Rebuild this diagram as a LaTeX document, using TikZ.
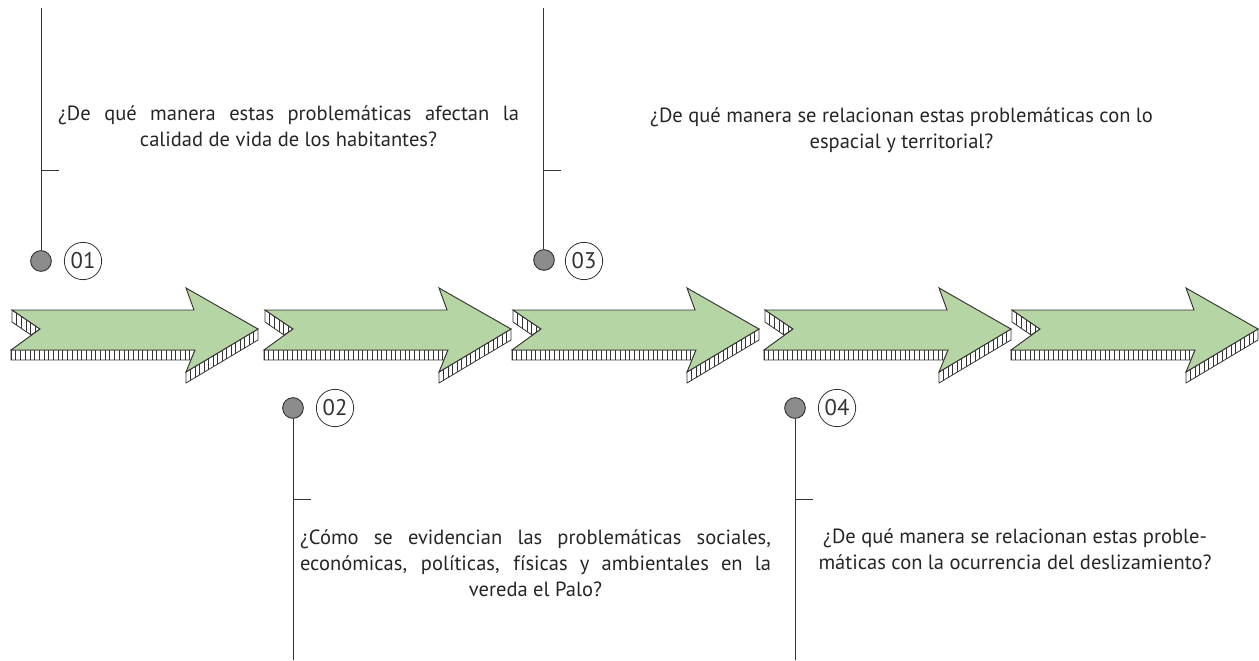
\documentclass[tikz,border=0pt]{standalone}
\usepackage{fontspec}
\setmainfont{PT Sans}
\definecolor{arrowgreen}{HTML}{B5D5A5}
\definecolor{inkline}{HTML}{333333}
\definecolor{dotgray}{HTML}{8C8C8C}
\tikzset{
  x=0.75pt,y=-0.75pt,
  face/.style={fill=arrowgreen,draw=inkline,line width=0.7pt,line join=miter},
  band/.style={fill=white,draw=inkline,line width=0.6pt,line join=miter},
  hatch/.style={draw=inkline,line width=0.4pt},
  stem/.style={draw=inkline,line width=0.6pt},
  dot/.style={circle,draw=inkline,fill=dotgray,line width=0.7pt,minimum size=15.5pt,inner sep=0pt},
  numlabel/.style={circle,draw=inkline,fill=white,line width=0.6pt,minimum size=28pt,inner sep=0pt,font=\fontsize{17}{19}\selectfont,text=inkline},
  question/.style={inner sep=0pt,align=center,font=\fontsize{15.4}{19.6}\selectfont,text=black!85},
}
\newcommand{\bigarrow}[1]{%
\begin{scope}[xshift=#1*0.75pt]
  % bottom band
  \path[band] (-1,350) -- (183,350) -- (179,360) -- (-1,360) -- cycle;
  \begin{scope}
    \clip (-1,350) -- (183,350) -- (179,360) -- (-1,360) -- cycle;
    \foreach \i in {0,...,39} {\draw[hatch] ({-1+4.7*\i},350) -- ({-1+4.7*\i},360);}
  \end{scope}
  % head band
  \path[band] (174,372) -- (246,329) -- (246,340) -- (174,383) -- cycle;
  \foreach \i in {1,...,15} {\draw[hatch] ({174+4.5*\i},{372-2.69*\i}) -- ++(0,11);}
  % notch band
  \path[band] (0,310) -- (28,329) -- (19,335) -- (0,322) -- cycle;
  \begin{scope}
    \clip (0,310) -- (28,329) -- (19,335) -- (0,322) -- cycle;
    \foreach \i in {1,...,5} {\draw[hatch] ({0+4.6*\i},310) -- ++(0,40);}
  \end{scope}
  % face
  \path[face] (0,310) -- (182,310) -- (174,288) -- (246,329) -- (174,372) -- (183,350) -- (-1,350) -- (28,329) -- cycle;
\end{scope}}
\begin{document}
\begin{tikzpicture}
\useasboundingbox (0,0) rectangle (1259,660);
\bigarrow{12}
\bigarrow{265}
\bigarrow{513}
\bigarrow{765}
\bigarrow{1012}

\coordinate (top1) at (41,8);
\coordinate (top3) at (543,8);
\coordinate (bot2) at (293,660);
\coordinate (bot4) at (795,660);
\coordinate (tick1a) at (41,170);
\coordinate (tick1b) at (59,170);
\coordinate (tick3a) at (543,170);
\coordinate (tick3b) at (561,170);
\coordinate (tick2a) at (293,499);
\coordinate (tick2b) at (311,499);
\coordinate (tick4a) at (795,499);
\coordinate (tick4b) at (813,499);

\node[dot] (d1) at (41,261) {};
\node[dot] (d3) at (544,260) {};
\node[dot] (d2) at (293,408) {};
\node[dot] (d4) at (795,408) {};
\node[numlabel] (n1) at (83,261) {01};
\node[numlabel] (n3) at (584,261) {03};
\node[numlabel] (n2) at (335,408) {02};
\node[numlabel] (n4) at (837,408) {04};

\draw[stem] (top1) -- (d1);
\draw[stem] (top3) -- (d3.north -| top3);
\draw[stem] (d2) -- (bot2);
\draw[stem] (d4) -- (bot4);
\draw[stem] (tick1a) -- (tick1b);
\draw[stem] (tick3a) -- (tick3b);
\draw[stem] (tick2a) -- (tick2b);
\draw[stem] (tick4a) -- (tick4b);

\node[question] (q1) at (288.5,126) {\makebox[345.7pt][s]{¿De qué manera estas problemáticas afectan la}\\calidad de vida de los habitantes?};
\node[question] (q3) at (901.5,130) {¿De qué manera se relacionan estas problemáticas con lo\\espacial y territorial?};
\node[question] (q2) at (535.5,563) {\makebox[353.2pt][s]{¿Cómo se evidencian las problemáticas sociales,}\\\makebox[353.2pt][s]{económicas, políticas, físicas y ambientales en la}\\vereda el Palo?};
\node[question] (q4) at (1015,549) {¿De qué manera se relacionan estas proble-\\máticas con la ocurrencia del deslizamiento?};
\end{tikzpicture}
\end{document}
